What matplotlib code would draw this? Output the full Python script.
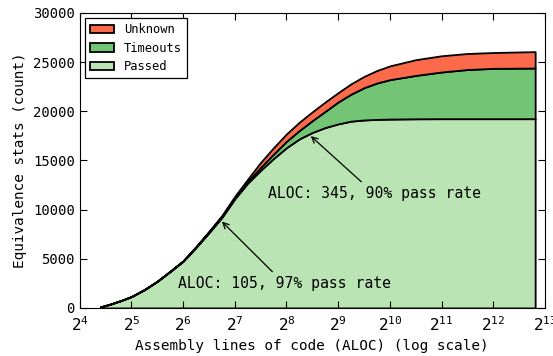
import numpy as np
import matplotlib
matplotlib.use("Agg")
import matplotlib.pyplot as plt
from matplotlib.ticker import FixedLocator, FuncFormatter, NullLocator

plt.rcParams['font.family'] = ['DejaVu Sans Mono']
plt.rcParams['mathtext.fontset'] = 'custom'
plt.rcParams['mathtext.rm'] = 'DejaVu Sans Mono'

# ALOC sample points (log2) and cumulative counts
log2_aloc = [4.40, 4.60, 4.80, 5.00, 5.25, 5.50, 5.75, 6.00, 6.25, 6.50, 6.75,
             7.00, 7.25, 7.50, 7.75, 8.00, 8.25, 8.50, 8.75, 9.00, 9.25, 9.50,
             9.75, 10.0, 10.5, 11.0, 11.5, 12.0, 12.81]
passed_cum = [100, 400, 750, 1150, 1850, 2700, 3700, 4750, 6150, 7650, 9200,
              11100, 12700, 14000, 15200, 16300, 17200, 17850, 18350, 18720,
              19000, 19120, 19180, 19210, 19240, 19250, 19250, 19250, 19250]
timeouts_cum = [100, 400, 755, 1155, 1860, 2715, 3725, 4775, 6200, 7720, 9300,
                11200, 12850, 14300, 15650, 16950, 18050, 19050, 20000, 20950,
                21750, 22400, 22880, 23220, 23650, 24000, 24250, 24370, 24400]
total_cum = [100, 400, 760, 1160, 1870, 2730, 3750, 4800, 6250, 7800, 9400,
             11350, 13100, 14800, 16300, 17700, 18900, 19950, 20950, 21900,
             22800, 23550, 24150, 24620, 25250, 25650, 25880, 25980, 26070]

labels = ["Passed", "Timeouts", "Unknown"]
colors = ["#bae4b3", "#74c476", "#fb6a4a"]

aloc = 2.0 ** np.array(log2_aloc)
passed = np.array(passed_cum)
timeouts = np.array(timeouts_cum) - passed
unknown = np.array(total_cum) - np.array(timeouts_cum)

fig = plt.figure(figsize=(5.53, 3.56), dpi=100)
ax = fig.add_axes([0.144, 0.135, 0.8415, 0.8285])

polys = ax.stackplot(aloc, passed, timeouts, unknown, colors=colors,
                     labels=labels, edgecolor="black", linewidth=1.3)

ax.set_xscale("log", base=2)
ax.set_xlim(2 ** 4, 2 ** 13)
ax.set_ylim(0, 30000)
ax.xaxis.set_major_locator(FixedLocator([2.0 ** k for k in range(4, 14)]))
ax.xaxis.set_minor_locator(NullLocator())
ax.xaxis.set_major_formatter(FuncFormatter(
    lambda v, p: r"$\mathregular{2^{%d}}$" % round(np.log2(v))))
ax.set_yticks(np.arange(0, 30001, 5000))

ax.tick_params(direction="in", top=True, right=True, length=5, width=0.8)
ax.tick_params(axis="x", labelsize=11.5, pad=5)
ax.tick_params(axis="y", labelsize=10)

ax.set_xlabel("Assembly lines of code (ALOC) (log scale)", fontsize=10.4)
ax.set_ylabel("Equivalence stats (count)", fontsize=10.4)

# annotations at the pass curve
for aloc_val, rate, tx, ty in [(105, 97, 250, 2440), (345, 90, 836, 11600)]:
    yv = np.interp(np.log2(aloc_val), log2_aloc, passed_cum)
    ax.annotate("ALOC: %d, %d%% pass rate" % (aloc_val, rate),
                xy=(aloc_val, yv), xytext=(tx, ty), ha="center", va="center",
                fontsize=10.6,
                arrowprops=dict(arrowstyle="->", color="black", lw=0.9))

handles, labs = ax.get_legend_handles_labels()
leg = ax.legend(handles[::-1], labs[::-1], loc="upper left", fontsize=8.7,
                fancybox=False, framealpha=1, edgecolor="black",
                borderaxespad=0.45, handlelength=2.0, labelspacing=0.45)
leg.get_frame().set_linewidth(0.9)

fig.savefig("out.png", dpi=100)
